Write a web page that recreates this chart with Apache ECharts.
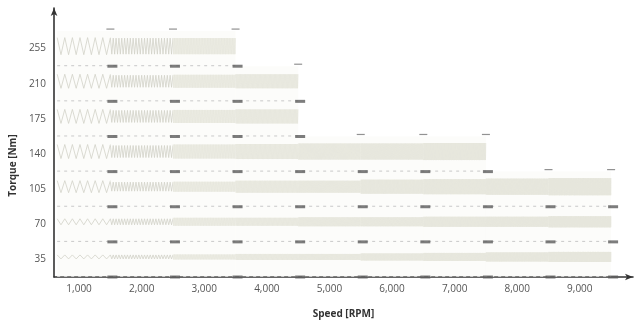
<!DOCTYPE html>
<html><head><meta charset="utf-8">
<script src="https://cdn.jsdelivr.net/npm/echarts@6/dist/echarts.min.js"></script>
<style>html,body{margin:0;padding:0;background:#fff}#c{width:637px;height:324px}</style>
</head><body><div id="c"></div>
<script>
// ---- data ----
const speedEdges = [650, 1500, 2500, 3500, 4500, 5500, 6500, 7500, 8500, 9500];
const torqueEdges = [0, 35, 70, 105, 140, 175, 210, 245];
const torqueLabels = ['35', '70', '105', '140', '175', '210', '255'];
const rowMaxSpeed = [9500, 9500, 9500, 7500, 4500, 4500, 3500];
// ripple half-amplitude (Nm) per row, per speed cell
const rippleAmp = [
  [2, 2, 2.5, 3, 3, 3.5, 4, 4.5, 5],
  [3, 3, 4, 4, 4.5, 4.5, 5, 5, 5.5],
  [6, 4.5, 5, 6, 6, 7, 7.5, 8, 8.5],
  [7, 6, 7, 7.5, 8, 8, 8.5],
  [7, 6, 6.5, 7],
  [7, 6, 6.5, 7],
  [8.5, 8, 8]
];
// ripple cycles visible in each speed cell
const rippleCycles = [7, 22, 40, 50, 60, 70, 80, 90, 100];
const xTickValues = [1000, 2000, 3000, 4000, 5000, 6000, 7000, 8000, 9000];

// ---- build series data from the arrays ----
const cellData = [];
const dashData = [];
const markBottom = [];
const markTop = [];
for (let r = 0; r < torqueLabels.length; r++) {
  const lo = torqueEdges[r], hi = torqueEdges[r + 1];
  for (let c = 0; c < speedEdges.length - 1; c++) {
    if (speedEdges[c + 1] > rowMaxSpeed[r]) break;
    cellData.push([speedEdges[c], speedEdges[c + 1], lo, hi, rippleAmp[r][c], rippleCycles[c], c >= 2 ? 1 : 0]);
    markBottom.push([speedEdges[c + 1], lo]);
    const above = r + 1 < torqueLabels.length ? rowMaxSpeed[r + 1] : 0;
    if (speedEdges[c + 1] > above) markTop.push([speedEdges[c + 1], hi]);
  }
  dashData.push([speedEdges[0], rowMaxSpeed[r], lo]);
}
const labelMids = torqueLabels.map((_, i) => (torqueEdges[i] + torqueEdges[i + 1]) / 2);

const chart = echarts.init(document.getElementById('c'), null, {renderer: 'canvas'});
const font = '"Open Sans", "Noto Sans", sans-serif';
chart.setOption({
  animation: false,
  grid: {left: 51, right: 4, top: 8, bottom: 38},
  xAxis: {
    type: 'value', min: 600, max: 9850,
    name: 'Speed [RPM]', nameLocation: 'middle', nameGap: 32,
    nameTextStyle: {fontFamily: font, fontWeight: 'bold', fontSize: 10, color: '#333'},
    axisLine: {show: true, lineStyle: {color: '#333', width: 1.6}, symbol: ['none', 'arrow'], symbolSize: [5, 8]},
    axisTick: {show: false},
    splitLine: {show: false},
    axisLabel: {customValues: xTickValues, margin: 7, fontFamily: font, fontSize: 10, color: '#555',
      formatter: v => v.toLocaleString('en-US')}
  },
  yAxis: {
    type: 'value', min: 0, max: 268,
    name: 'Torque [Nm]', nameLocation: 'middle', nameGap: 34,
    nameTextStyle: {fontFamily: font, fontWeight: 'bold', fontSize: 10, color: '#333', padding: [0, 46, 0, 0]},
    axisLine: {show: true, lineStyle: {color: '#333', width: 1.6}, symbol: ['none', 'arrow'], symbolSize: [5, 8]},
    axisTick: {show: false},
    splitLine: {show: false},
    axisLabel: {customValues: labelMids, margin: 8, fontFamily: font, fontSize: 10, color: '#555',
      formatter: v => torqueLabels[labelMids.indexOf(v)]}
  },
  series: [
    {
      type: 'custom', data: cellData, clip: false,
      renderItem: function (params, api) {
        const x0 = api.value(0), x1 = api.value(1), lo = api.value(2), hi = api.value(3);
        const amp = api.value(4), cyc = api.value(5), dense = api.value(6);
        const mid = (lo + hi) / 2 + 2.5;
        const pLo = api.coord([x0, lo]), pHi = api.coord([x1, hi]);
        const pm0 = api.coord([x0, mid]), pm1 = api.coord([x1, mid]);
        const k = api.size([0, 1])[1];
        const a = amp * k;
        const children = [{
          type: 'rect',
          shape: {x: pLo[0], y: pHi[1], width: pHi[0] - pLo[0], height: pLo[1] - pHi[1]},
          style: {fill: 'rgba(240,240,228,0.18)'}
        }];
        if (dense) {
          children.push({
            type: 'rect',
            shape: {x: pm0[0], y: pm0[1] - a, width: pm1[0] - pm0[0], height: 2 * a},
            style: {fill: '#eeeee6'}
          });
        }
        const pts = [];
        const n = cyc * 2;
        for (let i = 0; i <= n; i++) {
          pts.push([pm0[0] + (pm1[0] - pm0[0]) * i / n, pm0[1] + (i % 2 ? a : -a)]);
        }
        children.push({
          type: 'polyline', shape: {points: pts},
          style: {stroke: dense ? '#e4e4da' : '#d2d2c8', lineWidth: dense ? 0.5 : 0.8, fill: null}
        });
        return {type: 'group', children: children};
      }
    },
    {
      type: 'custom', data: dashData, clip: false,
      renderItem: function (params, api) {
        const p0 = api.coord([api.value(0), api.value(2)]);
        const p1 = api.coord([api.value(1), api.value(2)]);
        return {type: 'line', shape: {x1: p0[0], y1: p0[1] - 0.5, x2: p1[0], y2: p1[1] - 0.5},
          style: {stroke: '#c8c8c8', lineWidth: 1, lineDash: [3, 4]}};
      }
    },
    {
      type: 'scatter', data: markBottom, symbol: 'rect', symbolSize: [10, 3], symbolOffset: [2, 0],
      itemStyle: {color: '#5c5c5c'}, silent: true
    },
    {
      type: 'scatter', data: markTop, symbol: 'rect', symbolSize: [8, 1.2], symbolOffset: [0, -2],
      itemStyle: {color: '#777'}, silent: true
    }
  ]
});
</script></body></html>
